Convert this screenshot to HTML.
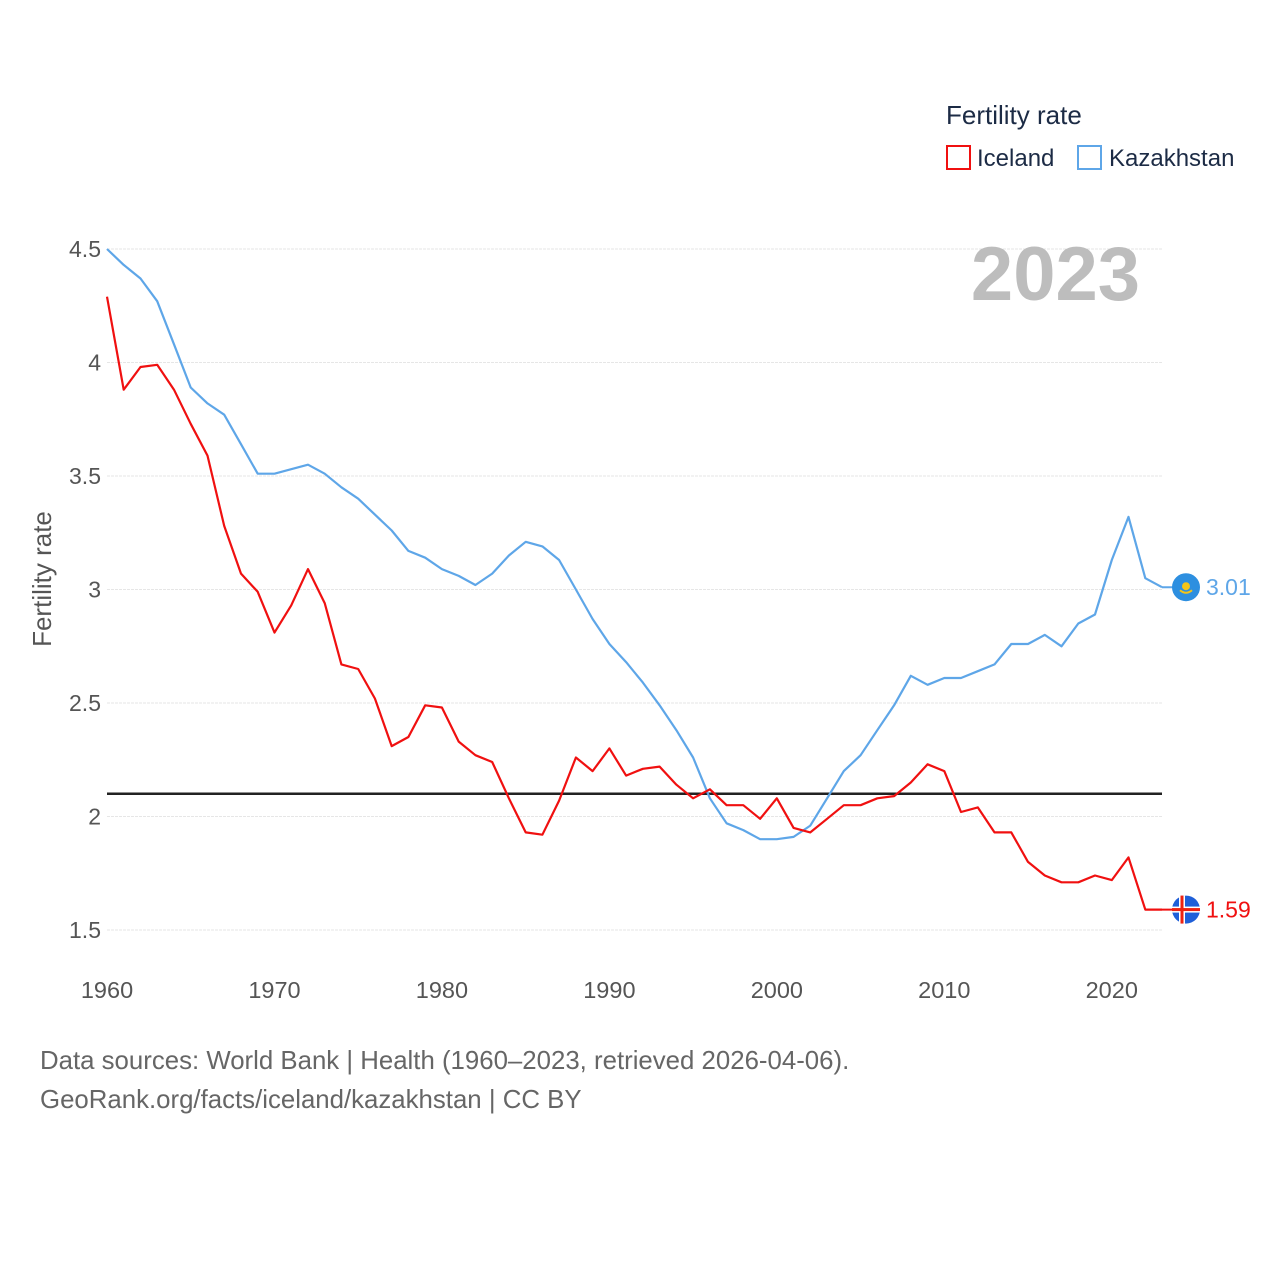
<!DOCTYPE html>
<html><head><meta charset="utf-8">
<style>
body{margin:0;background:#fff;font-family:"Liberation Sans",sans-serif;}
#wrap{position:relative;width:1280px;height:1280px;}
</style></head>
<body>
<div id="wrap">
<svg id="chart" width="1280" height="1280"></svg>
</div>
<script>
const years = [];
for (let y = 1960; y <= 2023; y++) years.push(y);
const iceland = [4.29,3.88,3.98,3.99,3.88,3.73,3.59,3.28,3.07,2.99,2.81,2.93,3.09,2.94,2.67,2.65,2.52,2.31,2.35,2.49,2.48,2.33,2.27,2.24,2.08,1.93,1.92,2.07,2.26,2.20,2.30,2.18,2.21,2.22,2.14,2.08,2.12,2.05,2.05,1.99,2.08,1.95,1.93,1.99,2.05,2.05,2.08,2.09,2.15,2.23,2.20,2.02,2.04,1.93,1.93,1.80,1.74,1.71,1.71,1.74,1.72,1.82,1.59,1.59];
const kazakhstan = [4.50,4.43,4.37,4.27,4.08,3.89,3.82,3.77,3.64,3.51,3.51,3.53,3.55,3.51,3.45,3.40,3.33,3.26,3.17,3.14,3.09,3.06,3.02,3.07,3.15,3.21,3.19,3.13,3.00,2.87,2.76,2.68,2.59,2.49,2.38,2.26,2.08,1.97,1.94,1.90,1.90,1.91,1.96,2.08,2.20,2.27,2.38,2.49,2.62,2.58,2.61,2.61,2.64,2.67,2.76,2.76,2.80,2.75,2.85,2.89,3.13,3.32,3.05,3.01];
const yTicks = [1.5,2,2.5,3,3.5,4,4.5];
const yTickLabels = ["1.5","2","2.5","3","3.5","4","4.5"];
const xTicks = [1960,1970,1980,1990,2000,2010,2020];
const refValue = 2.1;

const NS = "http://www.w3.org/2000/svg";
const svg = document.getElementById("chart");
const X0 = 107, X1 = 1162, Y0 = 930, Y1 = 249;
const xs = y => X0 + (y - 1960) * (X1 - X0) / 63;
const ys = v => Y0 - (v - 1.5) * (Y0 - Y1) / 3;
function el(tag, attrs, text) {
  const e = document.createElementNS(NS, tag);
  for (const k in attrs) e.setAttribute(k, attrs[k]);
  if (text !== undefined) e.textContent = text;
  svg.appendChild(e);
  return e;
}
yTicks.forEach((t, i) => {
  const g = el("line", {x1: X0, x2: X1, y1: ys(t), y2: ys(t), stroke: "#e6e6e6", "stroke-width": 1, "stroke-dasharray": "3,1"});
  
  
  const l = el("text", {x: 101, y: ys(t) + 8, "text-anchor": "end", "font-size": 23, fill: "#555"}, yTickLabels[i]);
  
  
});
xTicks.forEach(t => {
  const l = el("text", {x: xs(t), y: 998, "text-anchor": "middle", "font-size": 23.5, fill: "#555"}, String(t));
  
  
});
const yt = el("text", {x: 0, y: 0, transform: "translate(51,579) rotate(-90)", "text-anchor": "middle", "font-size": 26, fill: "#555"}, "Fertility rate");



const yr = el("text", {x: 1140, y: 300, "text-anchor": "end", "font-size": 76, "font-weight": "bold", fill: "#bdbdbd"}, "2023");



const ref = el("line", {x1: X0, x2: X1, y1: ys(refValue), y2: ys(refValue), stroke: "#222", "stroke-width": 2.5});



function series(vals, color, name) {
  const d = vals.map((v, i) => (i ? "L" : "M") + xs(years[i]).toFixed(1) + "," + ys(v).toFixed(1)).join("");
  const p = el("path", {d: d, fill: "none", stroke: color, "stroke-width": 2.2, "stroke-linejoin": "round"});
  
  
}
series(kazakhstan, "#5ea6e8", "kazakhstan-line");
series(iceland, "#f01010", "iceland-line");

function endMarker(v, color, name, flag) {
  const y = ys(v);
  el("line", {x1: X1, x2: 1186, y1: y, y2: y, stroke: color, "stroke-width": 2});
  const c = el("circle", {cx: 1186, cy: y, r: 14, fill: flag === "is" ? "#1f5fd8" : "#2d8fe0"});
  
  
  if (flag === "is") {
    el("rect", {x: 1172, y: y - 3, width: 28, height: 6, fill: "#fff"});
    el("rect", {x: 1179, y: y - 14, width: 6, height: 28, fill: "#fff"});
    el("rect", {x: 1172, y: y - 1.5, width: 28, height: 3, fill: "#e21"});
    el("rect", {x: 1180.5, y: y - 14, width: 3, height: 28, fill: "#e21"});
  } else {
    el("circle", {cx: 1186, cy: y - 1, r: 4, fill: "#f5c518"});
    el("path", {d: `M1180,${y+3} Q1186,${y+8} 1192,${y+3}`, stroke: "#f5c518", fill: "none", "stroke-width": 2});
  }
  const t = el("text", {x: 1206, y: y + 8, "font-size": 23, fill: color}, v.toFixed(2));
  
  
}
endMarker(kazakhstan[kazakhstan.length - 1], "#5ea6e8", "kazakhstan", "kz");
endMarker(iceland[iceland.length - 1], "#f01010", "iceland", "is");

const lt = el("text", {x: 946, y: 124, "font-size": 26, fill: "#1c2b45"}, "Fertility rate");


const r1 = el("rect", {x: 947, y: 146, width: 23, height: 23, fill: "none", stroke: "#f01010", "stroke-width": 2});


const t1 = el("text", {x: 977, y: 166, "font-size": 24, fill: "#1c2b45"}, "Iceland");


const r2 = el("rect", {x: 1078, y: 146, width: 23, height: 23, fill: "none", stroke: "#5ea6e8", "stroke-width": 2});


const t2 = el("text", {x: 1109, y: 166, "font-size": 24, fill: "#1c2b45"}, "Kazakhstan");



const s1 = el("text", {x: 40, y: 1069, "font-size": 25.8, fill: "#666"}, "Data sources: World Bank | Health (1960–2023, retrieved 2026-04-06).");


const s2 = el("text", {x: 40, y: 1108, "font-size": 25.8, fill: "#666"}, "GeoRank.org/facts/iceland/kazakhstan | CC BY");


</script>
</body></html>
